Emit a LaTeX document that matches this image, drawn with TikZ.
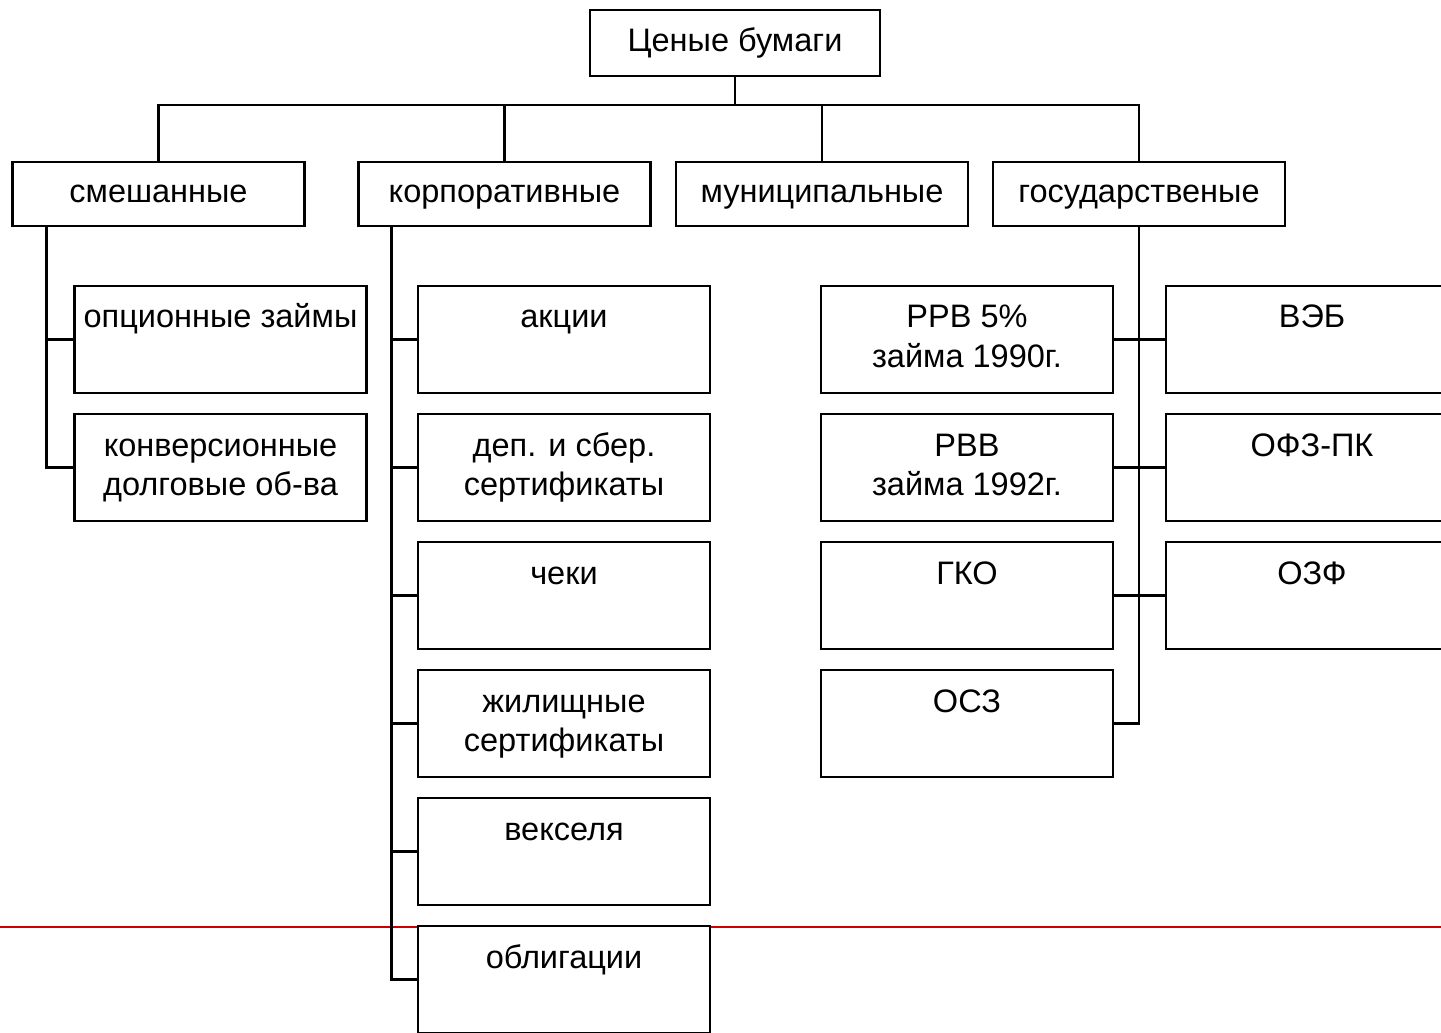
\documentclass[tikz,border=0pt]{standalone}
\usepackage{fontspec}
\setmainfont{Liberation Sans}
\newcommand{\twolines}[2]{\begin{tabular}[t]{@{}c@{}}#1\\#2\end{tabular}}

\begin{document}
\begin{tikzpicture}[x=0.02cm, y=-0.02cm, line width=1.4pt,
    font=\fontsize{18.5}{22.6}\selectfont,
    box/.style={draw, fill=white, inner sep=0pt, minimum width=5.84cm, minimum height=1.28cm, text height=9.6pt, text depth=0pt},
    leaf/.style={draw, fill=white, inner sep=0pt, minimum width=5.84cm, text height=0.84cm, text depth=1.3cm}]
    \path[use as bounding box, clip] (0,0) rectangle (1441,1033);
    \node[box, minimum width=5.8cm, minimum height=1.32cm] (root) at (735,43) {Ценые бумаги};
    \begin{scope}[every node/.style={box}]
        \node (mix) at (158.5,194) {смешанные};
        \node (corp) at (504.5,194) {корпоративные};
        \node (mun) at (822,194) {муниципальные};
        \node (gov) at (1139,194) {государственые};
    \end{scope}
    \draw[red!80!black, line width=1.1pt] (0,927) -- (1441,927);
    \begin{scope}[every node/.style={leaf}]
        \node (opt) at (220.5,339.5) {опционные займы};
        \node (conv) at (220.5,467.5) {\twolines{конверсионные}{долговые об-ва}};
        \node (shares) at (564,339.5) {акции};
        \node (dep) at (564,467.5) {\twolines{деп. и сбер.}{сертификаты}};
        \node (cheq) at (564,595.5) {чеки};
        \node (house) at (564,723.5) {\twolines{жилищные}{сертификаты}};
        \node (bills) at (564,851.5) {векселя};
        \node (bonds) at (564,979.5) {облигации};
        \node (rrv) at (967,339.5) {\twolines{РРВ 5\%}{займа 1990г.}};
        \node (rvv) at (967,467.5) {\twolines{РВВ}{займа 1992г.}};
        \node (gko) at (967,595.5) {ГКО};
        \node (osz) at (967,723.5) {ОСЗ};
        \node (veb) at (1312,339.5) {ВЭБ};
        \node (ofz) at (1312,467.5) {ОФЗ-ПК};
        \node (ozf) at (1312,595.5) {ОЗФ};
    \end{scope}
    \coordinate (bus) at (735,105);
    \draw (root) -- (bus);
    \draw (bus) -| (mix);
    \draw (bus) -| (corp);
    \draw (bus) -| (mun);
    \draw (bus) -| (gov);
    \draw (mix.south west) ++(35,0) |- (opt);
    \draw (mix.south west) ++(35,0) |- (conv);
    \draw (corp.south west) ++(34,0) |- (shares);
    \draw (corp.south west) ++(34,0) |- (dep);
    \draw (corp.south west) ++(34,0) |- (cheq);
    \draw (corp.south west) ++(34,0) |- (house);
    \draw (corp.south west) ++(34,0) |- (bills);
    \draw (corp.south west) ++(34,0) |- (bonds);
    \draw (gov) |- (osz);
    \draw (rrv) -- (veb);
    \draw (rvv) -- (ofz);
    \draw (gko) -- (ozf);
\end{tikzpicture}
\end{document}
